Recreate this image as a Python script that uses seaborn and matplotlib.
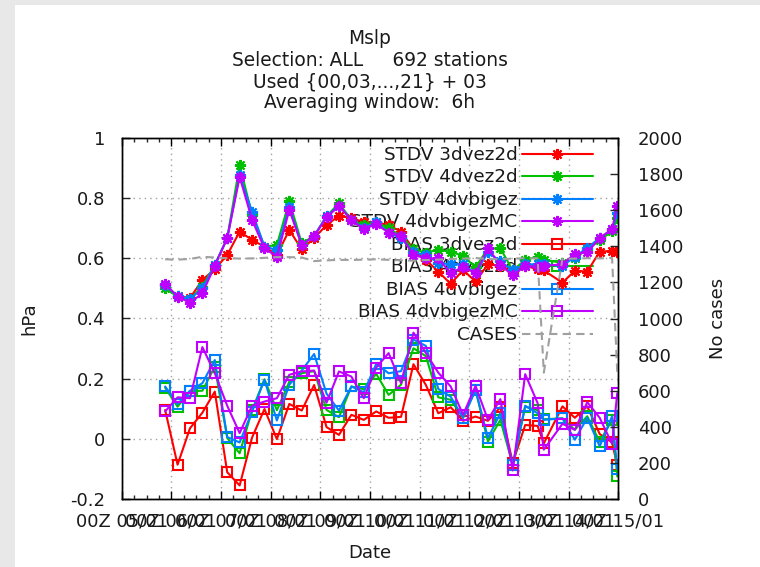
import matplotlib
matplotlib.use("Agg")
import matplotlib.pyplot as plt
import seaborn as sns
from matplotlib.patches import Rectangle
from matplotlib.ticker import MultipleLocator

# ---- data -------------------------------------------------------------
# valid time in hours after 05/01 00Z
hours = [21, 27, 33, 39, 45, 51, 57, 63, 69, 75, 81, 87, 93, 99, 105, 111,
         117, 123, 129, 135, 141, 147, 153, 159, 165, 171, 177, 183, 189,
         195, 201, 204, 213, 219, 225, 231, 237, 239.5]

stdv_3dvez2d = [0.510, 0.475, 0.468, 0.528, 0.564, 0.611, 0.689, 0.661, 0.639,
                0.611, 0.694, 0.630, 0.667, 0.711, 0.741, 0.735, 0.720, 0.720,
                0.710, 0.689, 0.630, 0.595, 0.556, 0.515, 0.561, 0.523, 0.580,
                0.575, 0.555, 0.575, 0.564, 0.560, 0.519, 0.559, 0.556, 0.622,
                0.625, 0.620]
stdv_4dvez2d = [0.500, 0.473, 0.465, 0.506, 0.578, 0.667, 0.910, 0.745, 0.639,
                0.644, 0.791, 0.650, 0.674, 0.740, 0.783, 0.728, 0.710, 0.720,
                0.700, 0.674, 0.630, 0.619, 0.628, 0.622, 0.608, 0.570, 0.633,
                0.633, 0.560, 0.595, 0.606, 0.595, 0.585, 0.600, 0.630, 0.660,
                0.690, 0.735]
stdv_4dvbigez = [0.510, 0.475, 0.465, 0.500, 0.578, 0.667, 0.877, 0.755, 0.639,
                 0.628, 0.770, 0.645, 0.674, 0.740, 0.775, 0.728, 0.700, 0.720,
                 0.685, 0.667, 0.620, 0.611, 0.585, 0.580, 0.580, 0.550, 0.620,
                 0.590, 0.560, 0.580, 0.580, 0.580, 0.575, 0.605, 0.635, 0.667,
                 0.697, 0.750]
stdv_4dvbigezMC = [0.515, 0.473, 0.452, 0.484, 0.575, 0.667, 0.871, 0.728, 0.633,
                   0.606, 0.761, 0.644, 0.674, 0.736, 0.774, 0.728, 0.697, 0.714,
                   0.685, 0.675, 0.611, 0.600, 0.600, 0.550, 0.572, 0.550, 0.633,
                   0.578, 0.543, 0.575, 0.572, 0.575, 0.580, 0.615, 0.620, 0.667,
                   0.697, 0.775]

bias_3dvez2d = [0.096, -0.086, 0.035, 0.087, 0.157, -0.111, -0.155, 0.004, 0.099,
                -0.001, 0.116, 0.094, 0.179, 0.039, 0.013, 0.080, 0.063, 0.091,
                0.070, 0.073, 0.248, 0.179, 0.085, 0.105, 0.060, 0.074, 0.060,
                0.105, -0.080, 0.046, 0.043, -0.015, 0.108, 0.070, 0.108, 0.016,
                -0.012, -0.088]
bias_4dvez2d = [0.170, 0.107, 0.158, 0.160, 0.240, 0.003, -0.048, 0.095, 0.198,
                0.095, 0.190, 0.218, 0.225, 0.096, 0.072, 0.174, 0.165, 0.216,
                0.146, 0.180, 0.301, 0.275, 0.138, 0.130, 0.070, 0.163, -0.009,
                0.063, -0.087, 0.107, 0.095, 0.065, 0.068, 0.030, 0.075, -0.010,
                0.063, -0.125]
bias_4dvbigez = [0.174, 0.115, 0.160, 0.185, 0.262, 0.006, -0.012, 0.090, 0.196,
                 0.061, 0.180, 0.227, 0.282, 0.150, 0.094, 0.174, 0.155, 0.249,
                 0.218, 0.225, 0.330, 0.309, 0.166, 0.140, 0.070, 0.163, 0.003,
                 0.085, -0.087, 0.110, 0.085, 0.063, 0.068, -0.003, 0.070, -0.025,
                 0.075, -0.100]
bias_4dvbigezMC = [0.091, 0.138, 0.135, 0.305, 0.218, 0.110, 0.019, 0.110, 0.124,
                   0.135, 0.213, 0.224, 0.227, 0.120, 0.224, 0.207, 0.135, 0.237,
                   0.285, 0.185, 0.353, 0.285, 0.220, 0.174, 0.080, 0.176, 0.063,
                   0.132, -0.105, 0.215, 0.119, -0.036, 0.050, 0.030, 0.122, 0.070,
                   -0.017, 0.152]

cases = [1328, 1326, 1330, 1342, 1338, 1334, 1332, 1333, 1336, 1340, 1340, 1338,
         1318, 1322, 1325, 1324, 1326, 1328, 1325, 1322, 1320, 1324, 1326, 1330,
         1332, 1335, 1330, 1328, 1332, 1334, 1333, 700, 1330, 1332, 1334, 1333,
         1335, 700]

day_ticks = [0, 24, 48, 72, 96, 120, 144, 168, 192, 216, 240]
day_labels = ["00Z 05/01", "00Z 06/01", "00Z 07/01", "00Z 08/01", "00Z 09/01",
              "00Z 10/01", "00Z 11/01", "00Z 12/01", "00Z 13/01", "00Z 14/01",
              "00Z 15/01"]
hpa_ticks = [-0.2, 0, 0.2, 0.4, 0.6, 0.8, 1]
hpa_labels = ["-0.2", "0", "0.2", "0.4", "0.6", "0.8", "1"]
case_ticks = [0, 200, 400, 600, 800, 1000, 1200, 1400, 1600, 1800, 2000]
case_labels = [str(t) for t in case_ticks]

title_lines = ["Mslp", "Selection: ALL     692 stations",
               "Used {00,03,...,21} + 03", "Averaging window:  6h"]

# ---- style ------------------------------------------------------------
sns.set_theme(style="white")
plt.rcParams['font.family'] = ['DejaVu Sans']
plt.rcParams['axes.unicode_minus'] = False
FS = 13.0      # tick labels and axis titles
FS_KEY = 13.2  # legend
FS_TTL = 13.4  # title block
TXT = '#1a1a1a'

RED, GREEN, BLUE, PURPLE = '#ff0000', '#00c000', '#0080ff', '#c000ff'
GREY = '#a0a0a0'
STAR = (8, 2, 0)

fig = plt.figure(figsize=(7.6, 5.67), dpi=100, facecolor='white')
fig.patches.append(Rectangle((0, 0), 15 / 760, 1, transform=fig.transFigure,
                             facecolor='#e8e8e8', edgecolor='none', zorder=0))
fig.patches.append(Rectangle((0, 1 - 5 / 567), 1, 5 / 567, transform=fig.transFigure,
                             facecolor='#e8e8e8', edgecolor='none', zorder=0))

ax = fig.add_axes([121.7 / 760, 1 - 499 / 567, 496.6 / 760, 361 / 567])
ax2 = ax.twinx()

series = [
    ("STDV 3dvez2d", stdv_3dvez2d, RED, STAR),
    ("STDV 4dvez2d", stdv_4dvez2d, GREEN, STAR),
    ("STDV 4dvbigez", stdv_4dvbigez, BLUE, STAR),
    ("STDV 4dvbigezMC", stdv_4dvbigezMC, PURPLE, STAR),
    ("BIAS 3dvez2d", bias_3dvez2d, RED, 's'),
    ("BIAS 4dvez2d", bias_4dvez2d, GREEN, 's'),
    ("BIAS 4dvbigez", bias_4dvbigez, BLUE, 's'),
    ("BIAS 4dvbigezMC", bias_4dvbigezMC, PURPLE, 's'),
]
for label, vals, col, mk in series:
    if mk == 's':
        extra = dict(markersize=6.5, markerfacecolor='none')
    else:
        extra = dict(markersize=8, markerfacecolor=col)
    sns.lineplot(x=hours, y=vals, ax=ax, color=col, linewidth=1.5, marker=mk,
                 markeredgecolor=col, markeredgewidth=1.5, label=label,
                 legend=False, errorbar=None, **extra)

sns.lineplot(x=hours, y=cases, ax=ax2, color=GREY, linewidth=1.5,
             linestyle=(0, (4, 2.5)), label="CASES", legend=False, errorbar=None)

# ---- axes -------------------------------------------------------------
ax.set_xlim(0, 240)
ax.set_ylim(-0.2, 1)
ax2.set_ylim(0, 2000)

ax.set_xticks(day_ticks, day_labels)
ax.xaxis.set_minor_locator(MultipleLocator(6))
ax.set_yticks(hpa_ticks, hpa_labels)
ax2.set_yticks(case_ticks, case_labels)

ax.grid(True, which='major', color=GREY, linewidth=1.0, linestyle=(0, (1, 3)))
ax.set_axisbelow(True)

for a in (ax, ax2):
    for s in a.spines.values():
        s.set_color('black')
        s.set_linewidth(1.0)

ax.tick_params(axis='x', which='major', direction='in', length=6, width=1,
               top=True, bottom=True, labelsize=FS, pad=10, colors='black',
               labelcolor=TXT)
ax.tick_params(axis='x', which='minor', direction='in', length=3, width=1,
               top=True, bottom=True)
ax.tick_params(axis='y', which='major', direction='in', length=6, width=1,
               left=True, right=False, labelsize=FS, pad=12, labelcolor=TXT)
ax2.tick_params(axis='y', which='major', direction='in', length=6, width=1,
                right=True, labelsize=FS, pad=14, labelcolor=TXT)

ax.set_xlabel("Date", fontsize=FS, color=TXT)
ax.xaxis.set_label_coords(0.5, -0.125)
ax.set_ylabel("hPa", fontsize=FS, color=TXT)
ax.yaxis.set_label_coords(-0.167, 0.5)
ax2.set_ylabel("No cases", fontsize=FS, color=TXT)
ax2.yaxis.set_label_coords(1.183, 0.5)

# ---- legend -----------------------------------------------------------
h1, l1 = ax.get_legend_handles_labels()
h2, l2 = ax2.get_legend_handles_labels()
leg = ax.legend(h1 + h2, l1 + l2, loc='upper right',
                bbox_to_anchor=((593 - 121.7) / 496.6, (499 - 146) / 361),
                frameon=False, markerfirst=False, handlelength=3.9,
                handletextpad=0.22, labelspacing=0.245, borderpad=0,
                borderaxespad=0, fontsize=FS_KEY, numpoints=1)
for t in leg.get_texts():
    t.set_color(TXT)
leg.set_zorder(1.5)

# ---- title ------------------------------------------------------------
cx = (121.7 + 496.6 / 2) / 760
for line, ypx in zip(title_lines, [38, 60, 82, 103]):
    fig.text(cx, 1 - ypx / 567, line, ha='center', va='center', fontsize=FS_TTL,
             color=TXT)

fig.savefig("out.png", dpi=100, facecolor=fig.get_facecolor())
